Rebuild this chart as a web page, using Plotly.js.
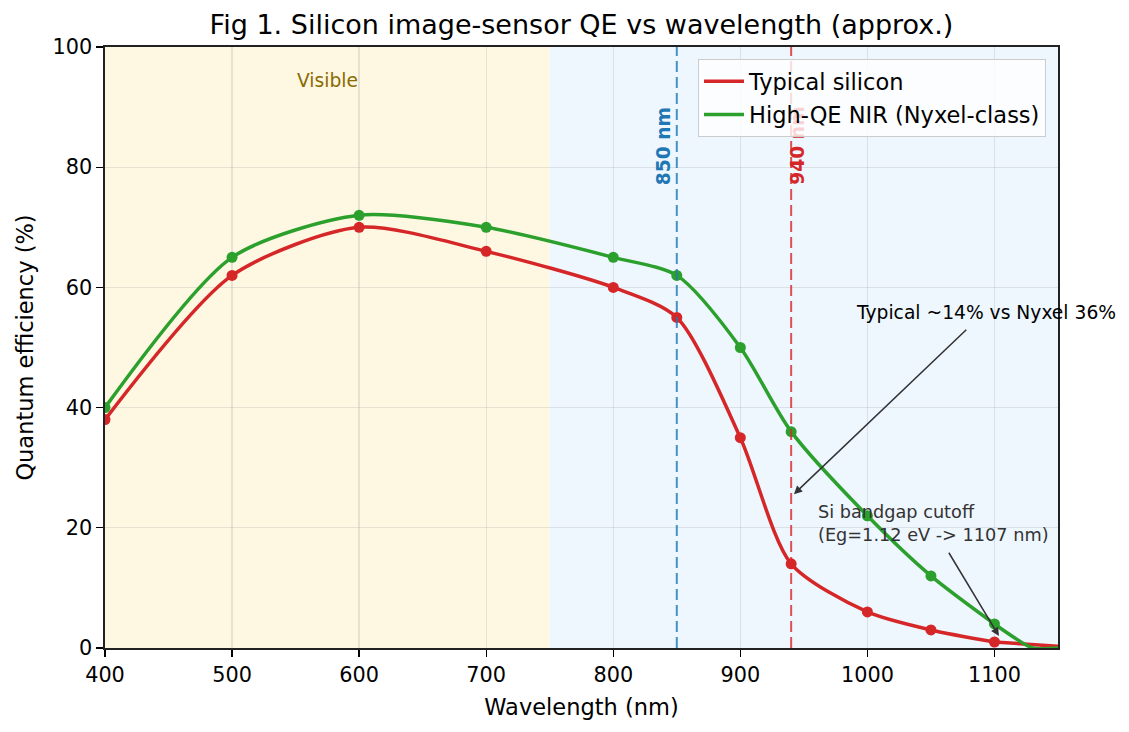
<!DOCTYPE html>
<html>
<head>
<meta charset="utf-8">
<script src="https://cdn.plot.ly/plotly-3.0.1.min.js"></script>
<style>
  html, body { margin: 0; padding: 0; background: #ffffff; }
  #chart { width: 1129px; height: 732px; }
</style>
</head>
<body>
<div id="chart"></div>
<script>
// Measured QE points (nm, %)
const wavelengths   = [400, 500, 600, 700, 800, 850, 900, 940, 1000, 1050, 1100];
const typicalQE     = [38, 62, 70, 66, 60, 55, 35, 14, 6, 3, 1];
const highQE        = [40, 65, 72, 70, 65, 62, 50, 36, 22, 12, 4];

// Tail of each curve beyond the last measured point (line only)
const typicalTailNm = [1100, 1150];
const typicalTailQE = [1, 0.3];
const highTailNm    = [1100, 1130, 1150];
const highTailQE    = [4, 0, 0];

const xTicks = [400, 500, 600, 700, 800, 900, 1000, 1100];
const yTicks = [0, 20, 40, 60, 80, 100];

const RED = '#d62728';
const GREEN = '#2ca02c';
const BLUE = '#1f77b4';
const FONT = 'DejaVu Sans, Liberation Sans, sans-serif';
const LW = 3.5;
const LABEL_SIZE = 22.5;

const curve = (color, smoothing) => ({ color: color, width: LW, shape: 'spline', smoothing: smoothing });

const traces = [
  // curves with point markers
  { x: wavelengths, y: typicalQE, mode: 'lines+markers', showlegend: false,
    line: curve(RED, 0.75), marker: { color: RED, size: 11 } },
  { x: typicalTailNm, y: typicalTailQE, mode: 'lines', showlegend: false,
    line: curve(RED, 0.75) },
  { x: wavelengths, y: highQE, mode: 'lines+markers', showlegend: false,
    line: curve(GREEN, 0.75), marker: { color: GREEN, size: 11 } },
  { x: highTailNm, y: highTailQE, mode: 'lines', showlegend: false,
    line: curve(GREEN, 0.6) },
  // legend entries (line swatches only)
  { x: [null], y: [null], mode: 'lines', name: 'Typical silicon', legendgroup: 'a',
    line: { color: RED, width: LW } },
  { x: [null], y: [null], mode: 'lines', name: 'High-QE NIR (Nyxel-class)', legendgroup: 'b',
    line: { color: GREEN, width: LW } }
];

const gridColor = 'rgba(160,160,160,0.25)';

const layout = {
  width: 1129, height: 732,
  margin: { l: 105, r: 71, t: 47, b: 84 },
  paper_bgcolor: '#ffffff',
  plot_bgcolor: '#ffffff',
  font: { family: FONT, size: 20.8, color: '#000000' },
  title: {
    text: 'Fig 1. Silicon image-sensor QE vs wavelength (approx.)',
    font: { family: FONT, size: 27, color: '#000000' },
    xref: 'paper', x: 0.5, xanchor: 'center', y: 0.966, yanchor: 'middle'
  },
  xaxis: {
    range: [400, 1150], tickvals: xTicks, ticks: 'outside', ticklen: 7, tickwidth: 1.3,
    tickcolor: '#000', tickfont: { size: 20.8 },
    showgrid: true, gridcolor: gridColor, gridwidth: 1.3,
    showline: true, linecolor: '#222', linewidth: 1.6, mirror: true, zeroline: false,
    title: { text: 'Wavelength (nm)', font: { size: LABEL_SIZE }, standoff: 13 }
  },
  yaxis: {
    range: [0, 100], tickvals: yTicks, ticks: 'outside', ticklen: 7, tickwidth: 1.3,
    tickcolor: '#000', tickfont: { size: 20.8 },
    showgrid: true, gridcolor: gridColor, gridwidth: 1.3,
    showline: true, linecolor: '#222', linewidth: 1.6, mirror: true, zeroline: false,
    title: { text: 'Quantum efficiency (%)', font: { size: LABEL_SIZE }, standoff: 12 }
  },
  legend: {
    x: 0.9874, xanchor: 'right', y: 0.98, yanchor: 'top',
    bgcolor: 'rgba(255,255,255,0.8)', bordercolor: '#cccccc', borderwidth: 1,
    font: { size: LABEL_SIZE }, traceorder: 'grouped', itemwidth: 40, tracegroupgap: 1
  },
  shapes: [
    { type: 'rect', xref: 'x', yref: 'paper', x0: 400, x1: 750, y0: 0, y1: 1,
      fillcolor: '#fef8e3', line: { width: 0 }, layer: 'below' },
    { type: 'rect', xref: 'x', yref: 'paper', x0: 750, x1: 1150, y0: 0, y1: 1,
      fillcolor: '#eef6fe', line: { width: 0 }, layer: 'below' },
    { type: 'line', xref: 'x', yref: 'paper', x0: 850, x1: 850, y0: 0, y1: 1,
      line: { color: 'rgba(31,119,180,0.8)', width: 2, dash: '11px,5px' } },
    { type: 'line', xref: 'x', yref: 'paper', x0: 940, x1: 940, y0: 0, y1: 1,
      line: { color: 'rgba(214,39,40,0.8)', width: 2, dash: '11px,5px' } }
  ],
  annotations: [
    { x: 575, y: 94.5, xref: 'x', yref: 'y', text: 'Visible', showarrow: false,
      font: { size: 18.7, color: '#8a6b00' } },
    { x: 850, y: 76.7, xref: 'x', yref: 'y', text: '<b>850 nm</b>', showarrow: false,
      textangle: -90, xanchor: 'right', yanchor: 'bottom', xshift: -1,
      font: { size: 18.7, color: BLUE } },
    { x: 940, y: 76.7, xref: 'x', yref: 'y', text: '<b>940 nm</b>', showarrow: false,
      textangle: -90, xanchor: 'left', yanchor: 'bottom', xshift: -7,
      font: { size: 18.7, color: RED } },
    { x: 942.2, y: 25.6, xref: 'x', yref: 'y', text: '', showarrow: true,
      arrowhead: 2, arrowsize: 1.1, arrowwidth: 1.5, arrowcolor: '#333', standoff: 0 },
    { x: 989.5, y: 55.9, xref: 'x', yref: 'y', text: 'Typical ~14% vs Nyxel 36%',
      showarrow: false, xanchor: 'left', yanchor: 'middle',
      font: { size: 18.7, color: '#000' } },
    { x: 1103.5, y: 2.0, xref: 'x', yref: 'y', text: '', showarrow: true,
      arrowhead: 2, arrowsize: 1.1, arrowwidth: 1.5, arrowcolor: '#333', standoff: 0 },
    { x: 959.6, y: 20.7, xref: 'x', yref: 'y',
      text: 'Si bandgap cutoff<br>(Eg=1.12 eV -> 1107 nm)',
      showarrow: false, xanchor: 'left', yanchor: 'middle', align: 'left',
      font: { size: 17.7, color: '#333' } }
  ]
};

Plotly.newPlot('chart', traces, layout, { displayModeBar: false, staticPlot: true }).then(gd => {
  // Arrow tails sit in data space; convert to pixel offsets from each tip
  const xa = gd._fullLayout.xaxis, ya = gd._fullLayout.yaxis;
  const anns = gd.layout.annotations.slice();
  const px = (xv, yv) => ({ x: xa.l2p(xv), y: ya.l2p(yv) });
  const tip1 = px(942.2, 25.6), tail1 = px(1079, 53.2);
  anns[3] = Object.assign({}, anns[3], { ax: tail1.x - tip1.x, ay: tail1.y - tip1.y });
  const tip2 = px(1103.5, 2.0), tail2 = px(1063.4, 16.1);
  anns[5] = Object.assign({}, anns[5], { ax: tail2.x - tip2.x, ay: tail2.y - tip2.y });
  return Plotly.relayout(gd, { annotations: anns });
}).then(gd => {
  // keep the legend box above the rotated line labels
  const leg = gd.querySelector('g.legend');
  if (leg) leg.parentNode.appendChild(leg);
});
</script>
</body>
</html>
